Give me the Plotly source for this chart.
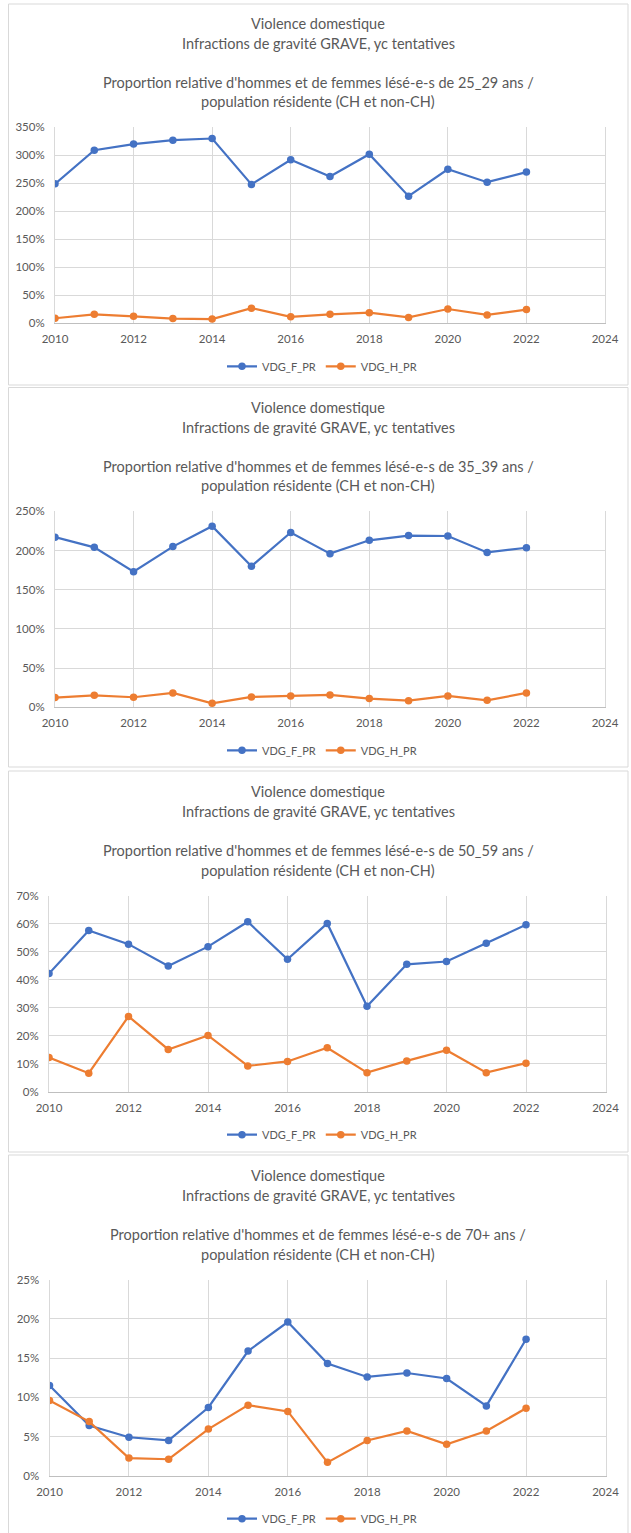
import plotly.graph_objects as go

W, H = 631, 1533

years = [2010, 2011, 2012, 2013, 2014, 2015, 2016, 2017, 2018, 2019, 2020, 2021, 2022]

age_groups = ["25_29", "35_39", "50_59", "70+"]

f_25_29 = [249, 309, 320, 327, 330, 248, 292, 262, 302, 227, 275, 252, 270]
h_25_29 = [9, 16, 12.5, 8.5, 7.5, 27, 11.5, 16, 19, 10.5, 25.5, 15, 24.5]

f_35_39 = [217, 204, 173, 205, 231, 180, 223, 196, 213, 219, 218.5, 197.5, 203.5]
h_35_39 = [12.4, 15.3, 12.8, 18.3, 5.1, 13.2, 14.5, 15.8, 11.1, 8.5, 14.5, 8.9, 18.3]

f_50_59 = [42.2, 57.6, 52.7, 44.9, 51.8, 60.7, 47.3, 60.1, 30.5, 45.5, 46.5, 53.0, 59.6]
h_50_59 = [12.2, 6.6, 26.9, 15.1, 20.1, 9.2, 10.8, 15.7, 6.8, 11.0, 14.8, 6.8, 10.2]

f_70 = [11.5, 6.4, 4.9, 4.5, 8.7, 15.9, 19.6, 14.3, 12.6, 13.1, 12.4, 8.9, 17.4]
h_70 = [9.6, 6.9, 2.25, 2.1, 5.95, 9.0, 8.2, 1.7, 4.5, 5.7, 4.0, 5.7, 8.6]

series_f = [f_25_29, f_35_39, f_50_59, f_70]
series_h = [h_25_29, h_35_39, h_50_59, h_70]
y_max = [350, 250, 70, 25]
y_step = [50, 50, 10, 5]

title_l1 = "Violence domestique"
title_l2 = "Infractions de gravité GRAVE, yc tentatives"
title_l3 = "Proportion relative d'hommes et de femmes lésé-e-s de {} ans /"
title_l4 = "population résidente (CH et non-CH)"
name_f = "VDG_F_PR"
name_h = "VDG_H_PR"

BLUE = "#4472C4"
ORANGE = "#ED7D31"
GRID = "#D9D9D9"
TXT = "#595959"
FONT = "Lato"

# layout (pixels)
plot_top = [127.3, 511.3, 895.7, 1279.7]
plot_bot = [323.3, 707.3, 1091.7, 1475.7]
plot_left = [55, 55, 49, 49.5]
plot_right = [605, 605, 605.5, 605.5]
frames = [(4, 385), (387.5, 767), (771, 1152), (1155, 1545)]

def px(x):
    return x / W

def py(y):
    return 1 - y / H

fig = go.Figure()
layout = dict(
    width=W, height=H,
    margin=dict(l=0, r=0, t=0, b=0, autoexpand=False),
    paper_bgcolor="white", plot_bgcolor="white",
    font=dict(family=FONT, color=TXT),
    showlegend=True,
)
annotations = []
shapes = []

for i in range(4):
    k = "" if i == 0 else str(i + 1)
    xa, ya = "x" + k, "y" + k
    lg = "legend" + k
    fig.add_trace(go.Scatter(
        x=years, y=series_f[i], name=name_f, mode="lines+markers",
        line=dict(color=BLUE, width=2.2), marker=dict(color=BLUE, size=7.5),
        xaxis=xa, yaxis=ya, legend=lg))
    fig.add_trace(go.Scatter(
        x=years, y=series_h[i], name=name_h, mode="lines+markers",
        line=dict(color=ORANGE, width=2.2), marker=dict(color=ORANGE, size=7.5),
        xaxis=xa, yaxis=ya, legend=lg))
    layout["xaxis" + k] = dict(
        domain=[px(plot_left[i]), px(plot_right[i])], anchor=ya,
        range=[2010, 2024], dtick=2, tick0=2010,
        showgrid=True, gridcolor=GRID, gridwidth=1,
        showline=True, linecolor="#BFBFBF", linewidth=1,
        zeroline=False, ticks="", ticklen=0, automargin=False,
        ticklabelstandoff=5,
        tickfont=dict(size=11.5, color=TXT, family=FONT),
        fixedrange=True,
    )
    layout["yaxis" + k] = dict(
        domain=[py(plot_bot[i]), py(plot_top[i])], anchor=xa,
        range=[0, y_max[i]], dtick=y_step[i], tick0=0,
        ticksuffix="%",
        showgrid=True, gridcolor=GRID, gridwidth=1,
        showline=True, linecolor=GRID, linewidth=1, mirror=True,
        zeroline=False, ticks="", ticklen=0, automargin=False,
        ticklabelstandoff=7,
        tickfont=dict(size=11.5, color=TXT, family=FONT),
        fixedrange=True,
    )
    layout[lg] = dict(
        orientation="h", xanchor="center", yanchor="middle",
        x=px(322), y=py(plot_bot[i] + 43),
        font=dict(size=11, color=TXT, family=FONT),
        bgcolor="rgba(0,0,0,0)", itemwidth=30,
    )
    top = plot_top[i]
    for txt, off in [(title_l1, 104), (title_l2, 84),
                     (title_l3.format(age_groups[i]), 45), (title_l4, 25.5)]:
        annotations.append(dict(
            text=txt, x=px(318), y=py(top - off), xref="paper", yref="paper",
            xanchor="center", yanchor="middle", showarrow=False,
            font=dict(size=14.5, color=TXT, family=FONT)))
    y0, y1 = frames[i]
    shapes.append(dict(
        type="rect", xref="paper", yref="paper",
        x0=px(8.5), x1=px(628), y0=py(y1), y1=py(y0),
        line=dict(color=GRID, width=1), fillcolor="rgba(0,0,0,0)", layer="below"))

layout["annotations"] = annotations
layout["shapes"] = shapes
fig.update_layout(**layout)
fig.write_html(
    "out.html",
    config={"displayModeBar": False},
    post_script="document.body.style.margin='0';document.body.style.overflow='hidden';",
)
